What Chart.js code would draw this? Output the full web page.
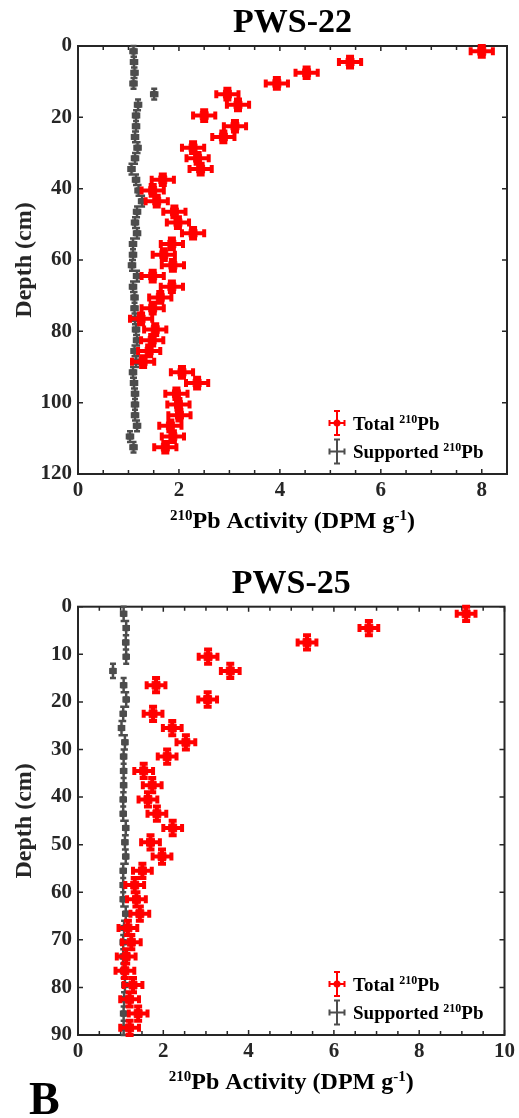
<!DOCTYPE html>
<html>
<head>
<meta charset="utf-8">
<script src="https://cdn.jsdelivr.net/npm/chart.js@4.4.0/dist/chart.umd.min.js"></script>
<style>
  body { margin: 0; background: #fff; width: 519px; height: 1118px; position: relative; overflow: hidden; }
  .panel { position: absolute; left: 0; width: 519px; }
  #p1 { top: 0; height: 550px; }
  #p2 { top: 550px; height: 568px; }
  #lbl { position: absolute; left: 29px; top: 1076px; font: bold 46px "Liberation Serif", serif; line-height: 1; color: #000; }
</style>
</head>
<body>
<div class="panel" id="p1"><canvas id="c1"></canvas></div>
<div class="panel" id="p2"><canvas id="c2"></canvas></div>
<div id="lbl">B</div>
<script>
// PWS-22
const depth22 = [1.5, 4.5, 7.5, 10.5, 13.5, 16.5, 19.5, 22.5, 25.5, 28.5, 31.5, 34.5, 37.5, 40.5, 43.5, 46.5, 49.5, 52.5, 55.5, 58.5,
                 61.5, 64.5, 67.5, 70.5, 73.5, 76.5, 79.5, 82.5, 85.5, 88.5, 91.5, 94.5, 97.5, 100.5, 103.5, 106.5, 109.5, 112.5];
const total22 = [8.0, 5.39, 4.53, 3.94, 2.96, 3.17, 2.50, 3.11, 2.88, 2.28, 2.37, 2.43, 1.68, 1.48, 1.56, 1.91, 1.98, 2.28, 1.86, 1.70,
                 1.88, 1.48, 1.86, 1.63, 1.48, 1.25, 1.53, 1.47, 1.41, 1.29, 2.06, 2.36, 1.95, 1.99, 2.01, 1.83, 1.88, 1.73];
const supported22 = [1.10, 1.11, 1.12, 1.10, 1.51, 1.19, 1.15, 1.15, 1.13, 1.18, 1.13, 1.06, 1.15, 1.20, 1.27, 1.17, 1.13, 1.17, 1.09, 1.09,
                     1.07, 1.17, 1.09, 1.12, 1.12, 1.13, 1.15, 1.17, 1.12, 1.15, 1.09, 1.11, 1.13, 1.13, 1.13, 1.17, 1.03, 1.10];
const xTicks22 = [0, 2, 4, 6, 8];
const yTicks22 = [0, 20, 40, 60, 80, 100, 120];

// PWS-25
const depth25 = [1.5, 4.5, 7.5, 10.5, 13.5, 16.5, 19.5, 22.5, 25.5, 28.5, 31.5, 34.5, 37.5, 40.5, 43.5,
                 46.5, 49.5, 52.5, 55.5, 58.5, 61.5, 64.5, 67.5, 70.5, 73.5, 76.5, 79.5, 82.5, 85.5, 88.5];
const total25 = [9.10, 6.82, 5.37, 3.05, 3.57, 1.83, 3.04, 1.76, 2.21, 2.53, 2.09, 1.54, 1.74, 1.64, 1.85,
                 2.22, 1.70, 1.97, 1.51, 1.33, 1.37, 1.45, 1.17, 1.25, 1.13, 1.10, 1.29, 1.21, 1.41, 1.21];
const supported25 = [1.07, 1.13, 1.12, 1.13, 0.82, 1.07, 1.13, 1.06, 1.02, 1.10, 1.07, 1.07, 1.07, 1.06, 1.06,
                     1.12, 1.10, 1.12, 1.06, 1.06, 1.06, 1.12, 1.08, 1.06, 1.06, 1.07, 1.10, 1.08, 1.07, 1.07];
const xTicks25 = [0, 2, 4, 6, 8, 10];
const yTicks25 = [0, 10, 20, 30, 40, 50, 60, 70, 80, 90];

// error bar half-widths
const totalErr = 0.22;
const supportedErr = 0.06;
const depthErr = 1.5;

const FONT = '"Liberation Serif", "Times New Roman", serif';
const AXIS = '#262626';
const RED = '#ff0000';
const GRAY = '#4d4d4d';

function richText(ctx, parts, x, y, size, supSize, raise, centered) {
    const widths = parts.map(p => {
        ctx.font = `bold ${p.sup ? supSize : size}px ${FONT}`;
        return ctx.measureText(p.t).width;
    });
    let cx = centered ? x - widths.reduce((a, b) => a + b, 0) / 2 : x;
    parts.forEach((p, i) => {
        ctx.font = `bold ${p.sup ? supSize : size}px ${FONT}`;
        ctx.fillText(p.t, cx, p.sup ? y - raise : y);
        cx += widths[i];
    });
}

function legendSymbol(ctx, x, y, color, dot) {
    ctx.strokeStyle = color;
    ctx.lineWidth = 2;
    ctx.beginPath();
    ctx.moveTo(x, y - 12); ctx.lineTo(x, y + 12);
    ctx.moveTo(x - 3, y - 12); ctx.lineTo(x + 3, y - 12);
    ctx.moveTo(x - 3, y + 12); ctx.lineTo(x + 3, y + 12);
    ctx.moveTo(x - 7.5, y); ctx.lineTo(x + 7.5, y);
    ctx.moveTo(x - 7.5, y - 3); ctx.lineTo(x - 7.5, y + 3);
    ctx.moveTo(x + 7.5, y - 3); ctx.lineTo(x + 7.5, y + 3);
    ctx.stroke();
    if (dot) {
        ctx.fillStyle = color;
        ctx.beginPath();
        ctx.arc(x, y, 3.5, 0, Math.PI * 2);
        ctx.fill();
    }
}

const pbPlugin = {
    id: 'pbFrame',
    beforeDatasetsDraw(chart) {
        const { ctx, chartArea: a, scales: { x, y } } = chart;
        ctx.save();
        ctx.strokeStyle = AXIS;
        ctx.lineWidth = 2;
        ctx.strokeRect(a.left, a.top, a.right - a.left, a.bottom - a.top);
        ctx.lineWidth = 1.5;
        ctx.beginPath();
        for (let v = x.min; v <= x.max + 1e-9; v += 0.5) {
            const px = x.getPixelForValue(v);
            const len = x.ticks.some(t => Math.abs(t.value - v) < 1e-9) ? 5 : 4;
            ctx.moveTo(px, a.bottom); ctx.lineTo(px, a.bottom - len);
            ctx.moveTo(px, a.top); ctx.lineTo(px, a.top + len);
        }
        y.ticks.forEach(t => {
            const py = y.getPixelForValue(t.value);
            ctx.moveTo(a.left, py); ctx.lineTo(a.left + 5, py);
            ctx.moveTo(a.right, py); ctx.lineTo(a.right - 5, py);
        });
        ctx.stroke();
        ctx.restore();
    },
    beforeDatasetDraw(chart, args) {
        const ds = chart.data.datasets[args.index];
        const { ctx, scales: { x, y } } = chart;
        const c = ds.capHalf;
        ctx.save();
        ctx.strokeStyle = ds.borderColor;
        ctx.lineWidth = ds.errWidth;
        ctx.beginPath();
        ds.data.forEach(p => {
            const cx = x.getPixelForValue(p.x), cy = y.getPixelForValue(p.y);
            const x0 = x.getPixelForValue(p.x - p.xErr), x1 = x.getPixelForValue(p.x + p.xErr);
            const y0 = y.getPixelForValue(p.y - p.yErr), y1 = y.getPixelForValue(p.y + p.yErr);
            ctx.moveTo(x0, cy); ctx.lineTo(x1, cy);
            ctx.moveTo(x0, cy - c); ctx.lineTo(x0, cy + c);
            ctx.moveTo(x1, cy - c); ctx.lineTo(x1, cy + c);
            ctx.moveTo(cx, y0); ctx.lineTo(cx, y1);
            ctx.moveTo(cx - c, y0); ctx.lineTo(cx + c, y0);
            ctx.moveTo(cx - c, y1); ctx.lineTo(cx + c, y1);
        });
        ctx.stroke();
        ctx.restore();
    },
    afterDraw(chart) {
        const { ctx, chartArea: a } = chart;
        ctx.save();
        ctx.fillStyle = '#000';
        ctx.textBaseline = 'alphabetic';
        ctx.textAlign = 'left';
        // x axis title
        richText(ctx, [{ t: '210', sup: true }, { t: 'Pb Activity (DPM g' }, { t: '-1', sup: true }, { t: ')' }],
            (a.left + a.right) / 2, a.bottom + 54, 24, 15, 8, true);
        // legend
        const lx = 337, ty = a.bottom - 51, sy = a.bottom - 22.5;
        legendSymbol(ctx, lx, ty, RED, true);
        legendSymbol(ctx, lx, sy, GRAY, false);
        ctx.fillStyle = '#000';
        richText(ctx, [{ t: 'Total ' }, { t: '210', sup: true }, { t: 'Pb' }], 353, ty + 6.5, 19, 12, 7, false);
        richText(ctx, [{ t: 'Supported ' }, { t: '210', sup: true }, { t: 'Pb' }], 353, sy + 6.5, 19, 12, 7, false);
        ctx.restore();
    }
};

function makeChart(id, title, depths, total, supported, xMax, yMax, xTicks, yTicks, titlePad, bottomH) {
    const toPts = (vals, err) => vals.map((v, i) => ({ x: v, y: depths[i], xErr: err, yErr: depthErr }));
    return new Chart(document.getElementById(id), {
        type: 'scatter',
        data: {
            datasets: [
                {
                    label: 'Total 210Pb',
                    data: toPts(total, totalErr),
                    backgroundColor: RED, borderColor: RED, borderWidth: 1,
                    pointStyle: 'rect', pointRadius: 5.6, pointHoverRadius: 5.6,
                    errWidth: 4, capHalf: 4, clip: false
                },
                {
                    label: 'Supported 210Pb',
                    data: toPts(supported, supportedErr),
                    backgroundColor: GRAY, borderColor: GRAY, borderWidth: 1,
                    pointStyle: 'rect', pointRadius: 3.8, pointHoverRadius: 3.8,
                    errWidth: 2.5, capHalf: 3, clip: false
                }
            ]
        },
        options: {
            responsive: true,
            maintainAspectRatio: false,
            animation: false,
            devicePixelRatio: 1,
            layout: { padding: { left: 0, right: 12, top: 0, bottom: 0 } },
            plugins: {
                legend: { display: false },
                tooltip: { enabled: false },
                title: {
                    display: true, text: title, fullSize: false, color: '#000',
                    font: { family: FONT, weight: 'bold', size: 34, lineHeight: 1 },
                    padding: titlePad
                }
            },
            scales: {
                x: {
                    type: 'linear', min: 0, max: xMax,
                    afterBuildTicks: s => { s.ticks = xTicks.map(v => ({ value: v })); },
                    afterFit: s => { s.height = bottomH; },
                    grid: { display: false, drawTicks: false },
                    border: { display: false },
                    ticks: { color: AXIS, padding: 4, maxRotation: 0, font: { family: FONT, weight: 'bold', size: 21 } }
                },
                y: {
                    type: 'linear', reverse: true, min: 0, max: yMax,
                    afterBuildTicks: s => { s.ticks = yTicks.map(v => ({ value: v })); },
                    afterFit: s => { s.width = 78; },
                    grid: { display: false, drawTicks: false },
                    border: { display: false },
                    ticks: { color: AXIS, padding: 6, font: { family: FONT, weight: 'bold', size: 21 } },
                    title: {
                        display: true, text: 'Depth (cm)', color: AXIS,
                        font: { family: FONT, weight: 'bold', size: 24, lineHeight: 1.2 },
                        padding: { top: 10, bottom: 0 }
                    }
                }
            }
        },
        plugins: [pbPlugin]
    });
}

makeChart('c1', 'PWS-22', depth22, total22, supported22, 8.5, 120, xTicks22, yTicks22, { top: 6, bottom: 6 }, 76);
makeChart('c2', 'PWS-25', depth25, total25, supported25, 10, 90, xTicks25, yTicks25, { top: 17, bottom: 5.7 }, 83);
</script>
</body>
</html>
